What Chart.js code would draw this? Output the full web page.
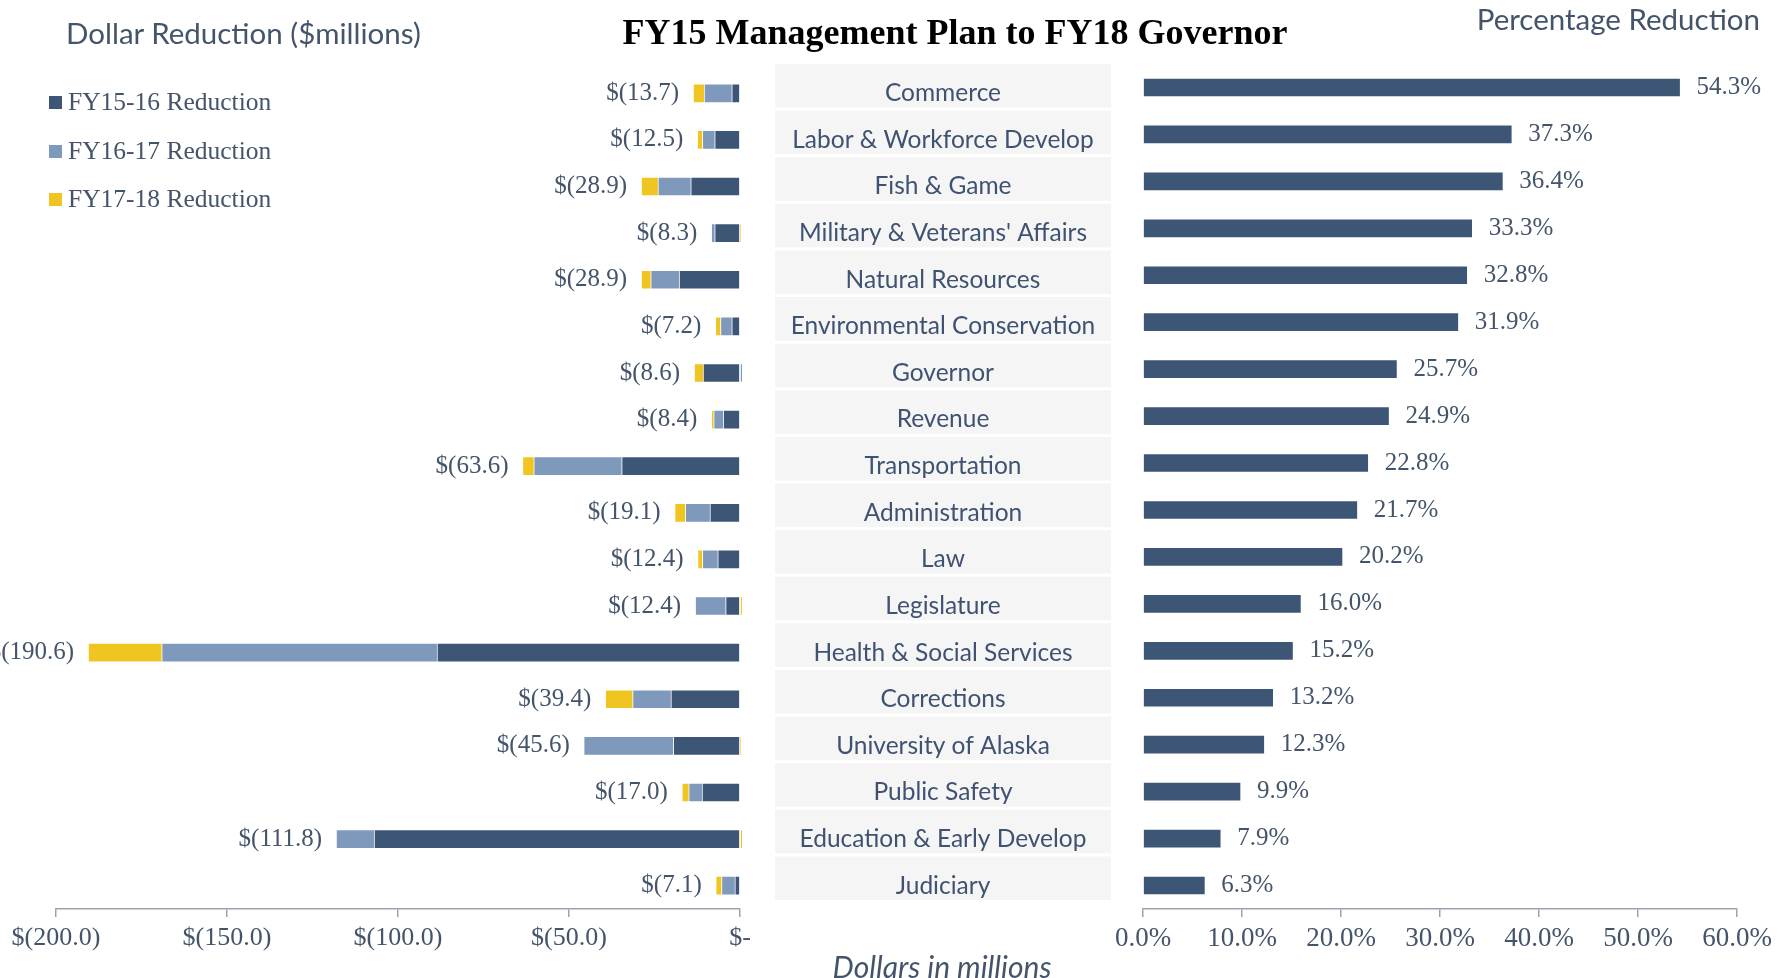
<!DOCTYPE html>
<html>
<head>
<meta charset="utf-8">
<script src="https://cdn.jsdelivr.net/npm/chart.js@4.4.1/dist/chart.umd.min.js"></script>
<style>
  html, body { margin: 0; padding: 0; background: #fff; }
  #page { position: relative; width: 1788px; height: 978px; overflow: hidden; }
  .wrap { position: absolute; top: 0; height: 978px; }
  #leftWrap { left: 0; width: 1111px; }
  #rightWrap { left: 1111px; width: 677px; }
  .txt { position: absolute; white-space: nowrap; color: #44546a; }
  #title { left: 955px; top: 12px; transform: translateX(-50%); font: bold 36px/40px "Liberation Serif", serif; color: #000; }
  #dollarTitle { left: 66px; top: 16px; font: 29.5px/34px Lato, sans-serif; }
  #pctTitle { right: 28px; top: 2px; font: 29.5px/34px Lato, sans-serif; }
  #axisNote { left: 942px; top: 949px; transform: translateX(-50%); font: italic 30px/34px Lato, sans-serif; }
  #legend { position: absolute; left: 49px; top: 87px; margin: 0; padding: 0; list-style: none; }
  #legend li { height: 48.5px; font: 25.5px/30px "Liberation Serif", serif; color: #44546a; display: flex; align-items: flex-start; }
  #legend span.sw { width: 13px; height: 13px; margin: 9px 6px 0 0; display: inline-block; }
</style>
</head>
<body>
<div id="page">
  <div class="wrap" id="leftWrap"><canvas id="leftCanvas"></canvas></div>
  <div class="wrap" id="rightWrap"><canvas id="rightCanvas"></canvas></div>
  <div class="txt" id="title">FY15 Management Plan to FY18 Governor</div>
  <div class="txt" id="dollarTitle">Dollar Reduction ($millions)</div>
  <div class="txt" id="pctTitle">Percentage Reduction</div>
  <div class="txt" id="axisNote">Dollars in millions</div>
  <ul id="legend"></ul>
</div>
<script>
const $ = (s) => document.querySelector(s);

const agencies = [
  "Commerce", "Labor & Workforce Develop", "Fish & Game", "Military & Veterans' Affairs",
  "Natural Resources", "Environmental Conservation", "Governor", "Revenue", "Transportation",
  "Administration", "Law", "Legislature", "Health & Social Services", "Corrections",
  "University of Alaska", "Public Safety", "Education & Early Develop", "Judiciary"
];

// $ millions, negative = reduction
const fy1516 = [-2.4, -7.4, -14.4, -7.4, -17.8, -2.4, -10.8, -4.9, -34.6, -8.8, -6.5, -4.2, -88.6, -20.2, -19.5, -11.1, -107.0, -1.5];
const fy1617 = [-8.1, -3.6, -9.6, -1.0, -8.3, -3.3, 4.8, -2.8, -25.7, -7.2, -4.5, -8.9, -80.5, -11.2, -26.2, -3.9, -11.1, -3.9];
const fy1718 = [-3.2, -1.5, -4.9, 0.1, -2.8, -1.5, -2.6, -0.7, -3.3, -3.1, -1.4, 0.7, -21.5, -8.0, 0.1, -2.0, 6.3, -1.7];

const pctReduction = [54.3, 37.3, 36.4, 33.3, 32.8, 31.9, 25.7, 24.9, 22.8, 21.7, 20.2, 16.0, 15.2, 13.2, 12.3, 9.9, 7.9, 6.3];

const dollarTicks = { min: -200, max: 0, step: 50 };
const pctTicks = { min: 0, max: 60, step: 10 };

const navy = "#3e5675";
const steel = "#7f99bc";
const gold = "#f0c521";
const slate = "#44546a";
const axisGray = "#9ba3ae";
const serif = '"Liberation Serif", serif';

// gray boxes + agency names in the y axis area
const agencyBands = {
  id: "agencyBands",
  afterDraw(chart) {
    const { ctx } = chart;
    const y = chart.scales.y;
    const left = y.left + 35, right = y.right;
    const step = y.getPixelForTick(1) - y.getPixelForTick(0);
    ctx.save();
    ctx.font = "24.5px Lato";
    ctx.textAlign = "center";
    ctx.textBaseline = "middle";
    chart.data.labels.forEach((name, i) => {
      const c = y.getPixelForTick(i);
      ctx.fillStyle = "#f5f5f5";
      ctx.fillRect(left, c - step / 2 - 6, right - left, step - 3);
      ctx.fillStyle = "#3f5272";
      ctx.fillText(name, (left + right) / 2, c);
    });
    ctx.restore();
  }
};

const dollarLabels = {
  id: "dollarLabels",
  afterDatasetsDraw(chart) {
    const { ctx } = chart;
    const x = chart.scales.x, y = chart.scales.y;
    ctx.save();
    ctx.font = "25px " + serif;
    ctx.fillStyle = slate;
    ctx.textAlign = "right";
    ctx.textBaseline = "middle";
    chart.data.labels.forEach((_, i) => {
      const ds = chart.data.datasets;
      const neg = ds.reduce((s, d) => s + Math.min(d.data[i], 0), 0);
      const total = ds.reduce((s, d) => s + d.data[i], 0);
      ctx.fillText("$(" + Math.abs(total).toFixed(1) + ")", x.getPixelForValue(neg) - 14, y.getPixelForValue(i));
    });
    ctx.restore();
  }
};

const pctLabels = {
  id: "pctLabels",
  afterDatasetsDraw(chart) {
    const { ctx } = chart;
    const x = chart.scales.x, y = chart.scales.y;
    ctx.save();
    ctx.font = "25px " + serif;
    ctx.fillStyle = slate;
    ctx.textAlign = "left";
    ctx.textBaseline = "middle";
    chart.data.datasets[0].data.forEach((v, i) => {
      ctx.fillText(v.toFixed(1) + "%", x.getPixelForValue(v) + 16, y.getPixelForValue(i));
    });
    ctx.restore();
  }
};

function xAxis(range, fmt, size) {
  return {
    min: range.min,
    max: range.max,
    ticks: {
      stepSize: range.step,
      callback: fmt,
      color: slate,
      font: { family: serif, size: size },
      padding: 6,
      maxRotation: 0
    },
    grid: { display: true, drawOnChartArea: false, drawTicks: true, tickLength: 8, color: axisGray, lineWidth: 1.5 },
    border: { display: true, color: axisGray, width: 1.5 },
    afterFit: (s) => { s.height = 69; }
  };
}

const barClip = { left: 0, top: 0, right: 2, bottom: 0 };

const leftChart = new Chart($("#leftCanvas"), {
  type: "bar",
  data: {
    labels: agencies,
    datasets: [
      { label: "FY15-16 Reduction", data: fy1516, backgroundColor: navy, clip: barClip },
      { label: "FY16-17 Reduction", data: fy1617, backgroundColor: steel, clip: barClip },
      { label: "FY17-18 Reduction", data: fy1718, backgroundColor: gold, clip: barClip }
    ]
  },
  options: {
    indexAxis: "y",
    responsive: true,
    maintainAspectRatio: false,
    animation: false,
    layout: { padding: { left: 56, top: 70, right: 0, bottom: 0 } },
    datasets: { bar: { barThickness: 19, borderWidth: 1, borderColor: "rgba(255,255,255,0.45)" } },
    plugins: { legend: { display: false }, tooltip: { enabled: false } },
    scales: {
      x: Object.assign(xAxis(dollarTicks, (v) => v === 0 ? "$-" : "$(" + Math.abs(v).toFixed(1) + ")", 26), { stacked: true }),
      y: {
        stacked: true,
        position: "right",
        ticks: { display: false },
        grid: { display: false },
        border: { display: false },
        afterFit: (s) => { s.width = 371; }
      }
    }
  },
  plugins: [agencyBands, dollarLabels]
});

new Chart($("#rightCanvas"), {
  type: "bar",
  data: {
    labels: agencies,
    datasets: [{ label: "Percentage Reduction", data: pctReduction, backgroundColor: navy }]
  },
  options: {
    indexAxis: "y",
    responsive: true,
    maintainAspectRatio: false,
    animation: false,
    layout: { padding: { left: 32, top: 64, right: 51, bottom: 0 } },
    datasets: { bar: { barThickness: 19, borderWidth: 1, borderColor: "rgba(255,255,255,0.45)" } },
    plugins: { legend: { display: false }, tooltip: { enabled: false } },
    scales: {
      x: Object.assign(xAxis(pctTicks, (v) => v.toFixed(1) + "%", 27), {
        // keep the plot edges fixed; the first/last tick labels may overhang
        afterFit: (s) => { s.height = 69; s.paddingLeft = 0; s.paddingRight = 0; }
      }),
      y: { display: false }
    }
  },
  plugins: [pctLabels]
});

// legend from the left chart's datasets
leftChart.data.datasets.forEach((d) => {
  const li = document.createElement("li");
  li.innerHTML = `<span class="sw" style="background:${d.backgroundColor}"></span>${d.label}`;
  $("#legend").appendChild(li);
});
</script>
</body>
</html>
